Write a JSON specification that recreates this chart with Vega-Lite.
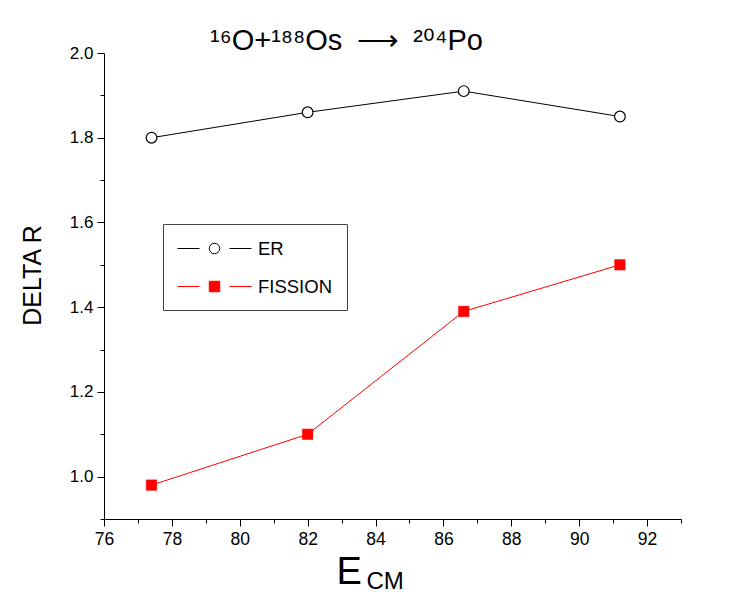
{
  "$schema": "https://vega.github.io/schema/vega-lite/v6.json",
  "autosize": {"type": "none"},
  "width": 577,
  "height": 466,
  "padding": {"left": 104, "top": 53, "right": 61, "bottom": 73},
  "background": "white",
  "config": {"font": "Liberation Sans", "view": {"stroke": null}},
  "title": {
    "text": "¹⁶O+¹⁸⁸Os\u2002⟶\u2002²⁰⁴Po",
    "fontSize": 29,
    "fontWeight": "normal",
    "font": "Liberation Sans",
    "anchor": "middle",
    "dx": -46,
    "dy": 38,
    "frame": "group",
    "offset": 3,
    "baseline": "alphabetic",
    "color": "black"
  },
  "data": {
    "values": [
      {"E": 77.4, "dR": 1.80, "series": "ER"},
      {"E": 82.0, "dR": 1.86, "series": "ER"},
      {"E": 86.6, "dR": 1.91, "series": "ER"},
      {"E": 91.2, "dR": 1.85, "series": "ER"},
      {"E": 77.4, "dR": 0.98, "series": "FISSION"},
      {"E": 82.0, "dR": 1.10, "series": "FISSION"},
      {"E": 86.6, "dR": 1.39, "series": "FISSION"},
      {"E": 91.2, "dR": 1.50, "series": "FISSION"}
    ]
  },
  "resolve": {"axis": {"x": "independent", "y": "independent"}},
  "layer": [
    {
      "mark": {"type": "line", "strokeWidth": 1},
      "encoding": {
        "x": {
          "field": "E", "type": "quantitative",
          "scale": {"domain": [76, 93], "nice": false, "zero": false},
          "axis": {
            "orient": "bottom",
            "values": [76, 78, 80, 82, 84, 86, 88, 90, 92],
            "grid": false, "tickSize": 7, "tickColor": "black", "domainColor": "black",
            "labelFontSize": 17.5, "labelColor": "black", "labelPadding": 4, "labelFlush": false,
            "title": "E", "titleFontSize": 38, "titleFontWeight": "normal", "titleColor": "black",
            "titleAlign": "left", "titleBaseline": "alphabetic", "titleAnchor": null,
            "titleX": 232, "titleY": 64
          }
        },
        "y": {
          "field": "dR", "type": "quantitative",
          "scale": {"domain": [0.9, 2.0], "nice": false, "zero": false},
          "axis": {
            "orient": "left",
            "values": [1.0, 1.2, 1.4, 1.6, 1.8, 2.0],
            "format": ".1f",
            "grid": false, "tickSize": 7, "tickColor": "black", "domainColor": "black",
            "labelFontSize": 17, "labelColor": "black", "labelPadding": 4, "labelFlush": false,
            "title": "DELTA R", "titleFontSize": 25, "titleFontWeight": "normal", "titleColor": "black",
            "titleAngle": -90, "titleAlign": "center", "titleBaseline": "alphabetic", "titleAnchor": null,
            "titleX": -64, "titleY": 222
          }
        },
        "color": {
          "field": "series", "type": "nominal",
          "scale": {"domain": ["ER", "FISSION"], "range": ["black", "#ff0000"]},
          "legend": {
            "orient": "none", "legendX": 59, "legendY": 171,
            "title": null,
            "strokeColor": "#444444", "padding": 14,
            "labelFontSize": 18.5, "labelColor": "black",
            "symbolSize": 400, "symbolOffset": 27, "labelOffset": 33,
            "rowPadding": 18,
            "encode": {
              "symbols": {
                "update": {
                  "shape": {"signal": "datum.value === 'ER' ? 'M-3.7,0L-1.5,0M1.5,0L3.7,0M-0.525,0A0.525,0.525,0,1,1,0.525,0A0.525,0.525,0,1,1,-0.525,0' : 'M-3.7,0L-1.5,0M1.5,0L3.7,0M-0.525,-0.525L0.525,-0.525L0.525,0.525L-0.525,0.525Z'"},
                  "fill": {"signal": "datum.value === 'ER' ? 'white' : '#ff0000'"},
                  "stroke": {"signal": "datum.value === 'ER' ? 'black' : '#ff0000'"},
                  "strokeWidth": {"value": 1},
                  "size": {"value": 400},
                  "opacity": {"value": 1}
                }
              }
            }
          }
        }
      }
    },
    {
      "transform": [{"filter": "datum.series === 'ER'"}],
      "mark": {"type": "point", "shape": "circle", "filled": false, "fill": "white", "stroke": "black", "strokeWidth": 1.2, "opacity": 1, "size": 115},
      "encoding": {
        "x": {
          "field": "E", "type": "quantitative",
          "axis": {
            "orient": "bottom",
            "values": [77, 79, 81, 83, 85, 87, 89, 91, 93],
            "grid": false, "tickSize": 4, "tickColor": "black", "domain": false, "labels": false,
            "title": "CM", "titleFontSize": 24, "titleFontWeight": "normal", "titleColor": "black",
            "titleAlign": "left", "titleBaseline": "alphabetic", "titleAnchor": null,
            "titleX": 262, "titleY": 69
          }
        },
        "y": {
          "field": "dR", "type": "quantitative",
          "axis": {
            "orient": "left",
            "values": [0.9, 1.1, 1.3, 1.5, 1.7, 1.9],
            "grid": false, "tickSize": 4, "tickColor": "black", "domain": false, "labels": false,
            "title": null
          }
        }
      }
    },
    {
      "transform": [{"filter": "datum.series === 'FISSION'"}],
      "mark": {"type": "point", "shape": "square", "filled": true, "fill": "#ff0000", "stroke": "#ff0000", "strokeWidth": 0.5, "opacity": 1, "size": 110},
      "encoding": {
        "x": {"field": "E", "type": "quantitative", "axis": null},
        "y": {"field": "dR", "type": "quantitative", "axis": null}
      }
    }
  ]
}
